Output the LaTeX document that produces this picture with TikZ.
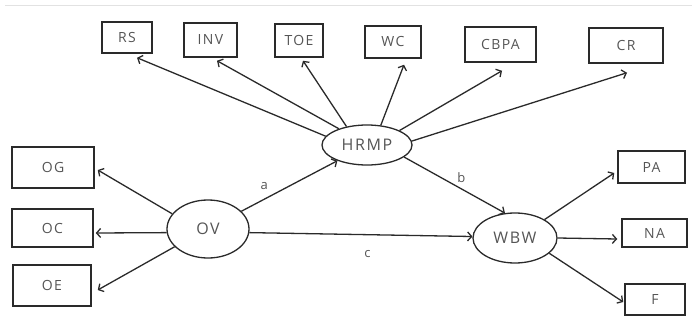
\documentclass[tikz,border=0pt]{standalone}
\usepackage{fontspec}
\setmainfont[LetterSpace=10]{Open Sans}
\usetikzlibrary{shapes.geometric,arrows.meta}
\definecolor{ink}{HTML}{2A2A2A}
\definecolor{txt}{HTML}{555555}
\definecolor{rule}{HTML}{E2E2E2}
\tikzset{
  box/.style={draw=ink, line width=1.5pt, inner sep=0pt, text=txt, font=\fontsize{14}{16}\selectfont},
  oval/.style={draw=ink, line width=1.3pt, ellipse, inner sep=0pt, text=txt, font=\fontsize{16}{18}\selectfont},
  conn/.style={draw=ink, line width=1.3pt, -{Straight Barb[length=4pt,width=9pt]}},
  lbl/.style={text=txt, font=\fontsize{13}{15}\selectfont, inner sep=0pt}
}
\begin{document}
\begin{tikzpicture}[x=1pt,y=-1pt]
\useasboundingbox (0,0) rectangle (696,329);
\draw[rule, line width=0.8pt] (5,5) -- (692,5);
% boxes
\node[box, minimum width=50pt, minimum height=31pt] (rs) at (127,37.5) {RS};
\node[box, minimum width=53pt, minimum height=34pt] (inv) at (210.5,40) {INV};
\node[box, minimum width=48pt, minimum height=33pt] (toe) at (299,40.5) {TOE};
\node[box, minimum width=56pt, minimum height=32pt] (wc) at (393,42) {WC};
\node[box, minimum width=71pt, minimum height=35pt] (cbpa) at (500.5,44.5) {CBPA};
\node[box, minimum width=74pt, minimum height=35pt] (cr) at (626,45.5) {CR};
\node[box, minimum width=82pt, minimum height=41pt] (og) at (53,167.5) {OG};
\node[box, minimum width=81pt, minimum height=38pt] (oc) at (52.5,228) {OC};
\node[box, minimum width=78pt, minimum height=41pt] (oe) at (52,285.5) {OE};
\node[box, minimum width=67pt, minimum height=32pt] (pa) at (651.5,167) {PA};
\node[box, minimum width=65pt, minimum height=28pt] (na) at (654.5,233) {NA};
\node[box, minimum width=60pt, minimum height=31pt] (f) at (655,299.5) {F};
% ellipses
\node[oval, minimum width=90pt, minimum height=40pt] (hrmp) at (367,145) {HRMP};
\node[oval, minimum width=82pt, minimum height=58pt] (ov) at (208,229) {OV};
\node[oval, minimum width=84pt, minimum height=50pt] (wbw) at (515,238) {WBW};
% connectors from HRMP
\draw[conn] (hrmp.168) -- ([shift={(10,4)}]rs.south);
\draw[conn] (hrmp.150) -- ([shift={(6.5,3)}]inv.south);
\draw[conn] (hrmp.138) -- ([shift={(4,3)}]toe.south);
\draw[conn] (hrmp.55) -- ([shift={(11,6)}]wc.south);
\draw[conn] (hrmp.24) -- ([shift={(1.5,8)}]cbpa.south);
\draw[conn] (hrmp.5) -- ([shift={(1,9)}]cr.south);
\draw[conn] (hrmp.-18) -- (wbw.112) node[lbl, pos=0.45, xshift=12pt, yshift=5pt] {b};
% connectors from OV
\draw[conn] (ov.157) -- ([shift={(3,2.5)}]og.east);
\draw[conn] (ov.185) -- ([shift={(2,5)}]oc.east);
\draw[conn] (ov.208) -- ([shift={(6,4.5)}]oe.east);
\draw[conn] (ov.28) -- (hrmp.208) node[lbl, pos=0.3, xshift=-6pt, yshift=10pt] {a};
\draw[conn] (ov.-5) -- (wbw.178) node[lbl, pos=0.53, yshift=-19pt] {c};
% connectors from WBW
\draw[conn] (wbw.32) -- ([shift={(-3,6)}]pa.west);
\draw[conn] (wbw.0) -- ([shift={(-4,6)}]na.west);
\draw[conn] (wbw.-24) -- ([shift={(-1,2.5)}]f.west);
\end{tikzpicture}
\end{document}
